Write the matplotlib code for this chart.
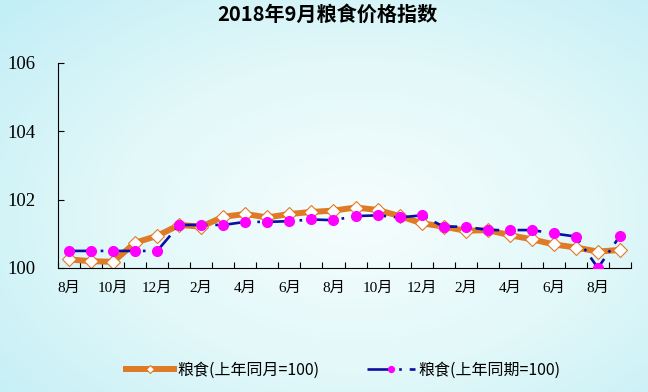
import numpy as np
import matplotlib
matplotlib.use('Agg')
import matplotlib.pyplot as plt
from matplotlib.colors import LinearSegmentedColormap

plt.rcParams['font.family'] = ['Noto Sans CJK SC', 'DejaVu Sans']

# months Aug 2016 .. Sep 2018
months = ['8月', '9月', '10月', '11月', '12月',
          '1月', '2月', '3月', '4月', '5月', '6月', '7月', '8月', '9月', '10月', '11月', '12月',
          '1月', '2月', '3月', '4月', '5月', '6月', '7月', '8月', '9月']
same_month = [100.25, 100.2, 100.18, 100.74, 100.94, 101.26, 101.21, 101.5, 101.58, 101.48,
              101.58, 101.64, 101.68, 101.77, 101.7, 101.52, 101.31, 101.21, 101.09, 101.11,
              100.96, 100.84, 100.69, 100.6, 100.48, 100.53]
same_period = [100.5, 100.5, 100.5, 100.5, 100.5, 101.26, 101.26, 101.26, 101.35, 101.35,
               101.37, 101.42, 101.4, 101.52, 101.54, 101.48, 101.54, 101.21, 101.21, 101.11,
               101.11, 101.11, 101.01, 100.92, 100.0, 100.94]
label_1 = '粮食(上年同月=100)'
label_2 = '粮食(上年同期=100)'
title = '2018年9月粮食价格指数'

fig = plt.figure(figsize=(6.48, 3.92), dpi=100)

# light cyan background, whiter towards the middle
bg = fig.add_axes([0, 0, 1, 1], zorder=-10)
yy, xx = np.mgrid[0:1:200j, 0:1:330j]
r = np.sqrt(((xx - 0.55) / 0.75) ** 2 + ((yy - 0.55) / 0.8) ** 2)
cmap = LinearSegmentedColormap.from_list('bg', ['#F6FDFD', '#E2F8F9', '#C2EEF6'])
bg.imshow(r, cmap=cmap, aspect='auto', extent=[0, 1, 0, 1], vmin=0, vmax=1.0)
bg.axis('off')

ax = fig.add_axes([58 / 648, 124 / 392, 573 / 648, 205 / 392])
ax.patch.set_alpha(0)

x = np.arange(len(months))
ax.plot(x, same_month, color='#DF7A26', lw=4.3, marker='D', ms=7,
        mfc='white', mec='#DF7A26', mew=0.8, label=label_1, zorder=2)
ax.plot(x, same_period, color='#0A0FA0', lw=1.9, ls=(0, (9, 3, 1, 3)), marker='o', ms=7,
        mfc='#FF00FF', mec='#FF00FF', label=label_2, zorder=3)

ax.set_xlim(-0.5, len(months) - 0.5)
ax.set_ylim(100, 106)
ax.set_yticks([100, 102, 104, 106])
ax.set_yticklabels(['100', '102', '104', '106'], family='Liberation Serif', fontsize=13.5)
ax.tick_params(axis='y', direction='in', length=4, pad=16, color='black')

ax.set_xticks(np.arange(-0.5, len(months), 1))
ax.set_xticklabels([])
ax.tick_params(axis='x', which='major', direction='in', length=4)
ax.set_xticks(x[::2], minor=True)
ax.set_xticklabels(months[::2], minor=True, fontsize=11,
                   family=['Liberation Serif', 'Noto Sans CJK SC'])
ax.tick_params(axis='x', which='minor', length=0, pad=10)

for s in ['top', 'right']:
    ax.spines[s].set_visible(False)

fig.text(0.505, 0.963, title, ha='center', va='center', fontsize=14.5, fontweight='bold')

fig.legend(loc='center', bbox_to_anchor=(0.53, 0.055), ncol=2, frameon=False,
           fontsize=11.5, handlelength=3.0, columnspacing=3.0, handletextpad=0.2,
           markerscale=0.6)

fig.savefig('out.png', dpi=100)
